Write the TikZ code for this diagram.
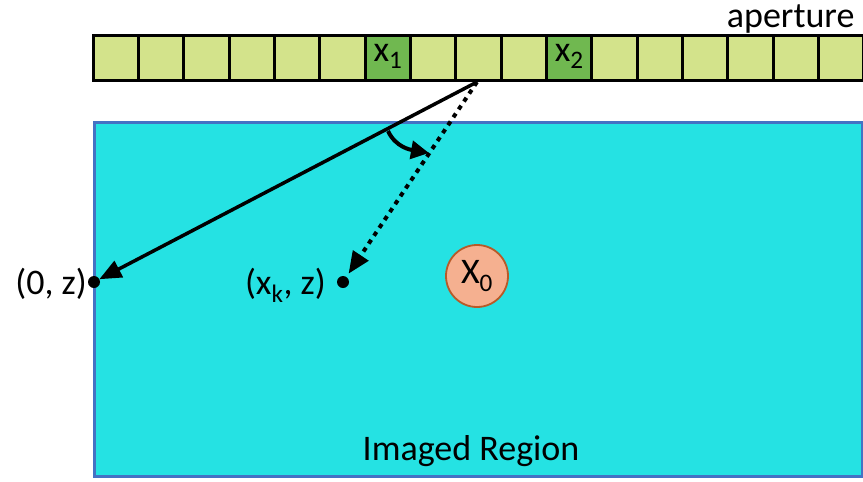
\documentclass[tikz,border=0pt]{standalone}
\usepackage{fontspec}
\setmainfont{Carlito}
\usetikzlibrary{arrows.meta}
\definecolor{cellgreen}{RGB}{211,227,139}
\definecolor{darkgreen}{RGB}{112,184,80}
\definecolor{regioncyan}{RGB}{37,226,227}
\definecolor{regionblue}{RGB}{68,114,196}
\definecolor{salmon}{RGB}{245,176,144}
\definecolor{rust}{RGB}{184,90,40}
\begin{document}
\begin{tikzpicture}[x=1pt,y=1pt,
  every node/.style={font=\fontsize{36}{43}\selectfont},
  cell/.style={draw=black,line width=3pt,fill=cellgreen,minimum width=45.33pt,minimum height=45pt,inner sep=0pt,outer sep=0pt},
  keycell/.style={cell,fill=darkgreen},
  dotpt/.style={circle,fill=black,inner sep=0pt,minimum size=12pt,outer sep=0pt},
  ray/.style={line width=3.5pt,-{Triangle[length=22pt,width=18pt]}},
  dotray/.style={line width=4pt,dash pattern=on 4.5pt off 5pt,-{Triangle[length=22pt,width=18pt]}},
  turn/.style={line width=4pt,-{Triangle[length=18pt,width=18pt]}}]
\useasboundingbox (0,0) rectangle (863,-482);
\clip (0,0) rectangle (863,-482);
% imaged region
\node[draw=regionblue,fill=regioncyan,line width=3pt,minimum width=768pt,minimum height=354pt,inner sep=0pt,outer sep=0pt,anchor=north west] (region) at (94,-122) {};
\node[anchor=base] (lbl) at (471,-460) {Imaged Region};
% aperture
\foreach \i in {0,...,16} {
  \ifnum\i=6 \def\st{keycell}\else\ifnum\i=10 \def\st{keycell}\else\def\st{cell}\fi\fi
  \node[\st] (cell\i) at ({93.33+45.33*(\i+0.5)},-57.5) {};
}
\node at ([yshift=1pt]cell6) {x\textsubscript{1}};
\node at ([yshift=1pt]cell10) {x\textsubscript{2}};
\node[anchor=base east] (ap) at (858,-27) {aperture};
% points
\node[dotpt] (p0) at (94,-282) {};
\node[anchor=base east,inner sep=1pt] (p0lbl) at (p0.west |- 0,-294) {(0, z)};
\node[dotpt] (pk) at (343,-282) {};
\node[anchor=base east,inner sep=0pt] (pklbl) at (326,-294) {(x\textsubscript{k}, z)};
\node[circle,draw=rust,fill=salmon,line width=1.8pt,minimum size=62pt,inner sep=0pt] (x0) at (477,-276) {X\textsubscript{0}};
% rays
\coordinate (O) at (477,-82);
\draw[ray] (O) -- (p0);
\draw[dotray,shorten >=4pt] (O) -- (pk);
\coordinate (c1) at (388,-131);
\coordinate (c2) at (429,-153);
\draw[turn] (c1) to[out=-65,in=170] (c2);
\end{tikzpicture}
\end{document}
